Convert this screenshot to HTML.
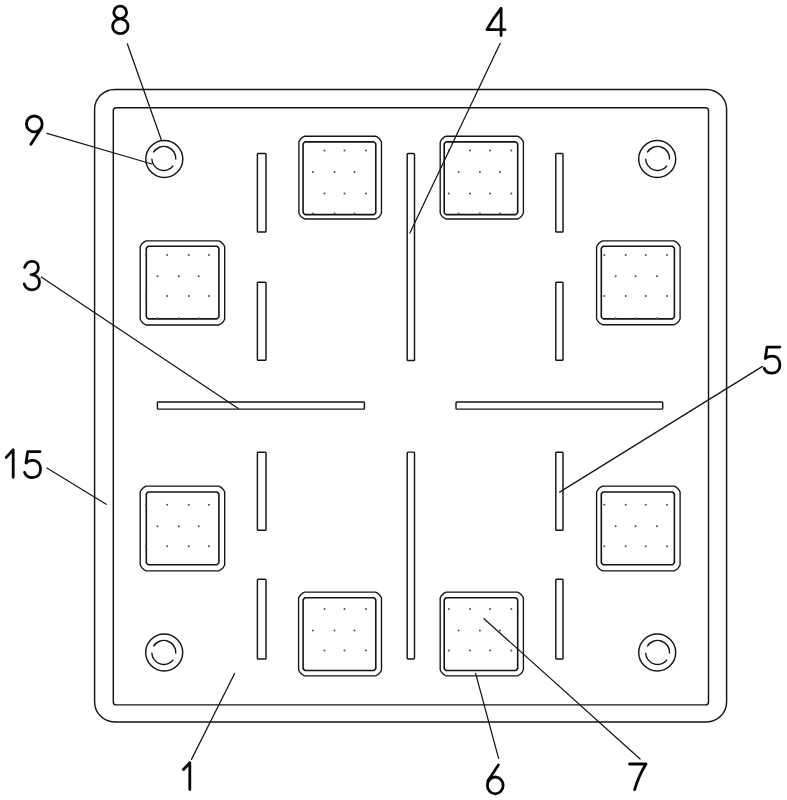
<!DOCTYPE html>
<html><head><meta charset="utf-8"><style>
html,body{margin:0;padding:0;background:#fff;width:787px;height:800px;overflow:hidden;font-family:"Liberation Sans",sans-serif}
svg{display:block}
</style></head><body>
<svg width="787" height="800" viewBox="0 0 787 800">
<rect x="0" y="0" width="787" height="800" fill="#fff"/>
<rect x="94.6" y="89.4" width="632.0" height="632.5" rx="20" ry="20" fill="none" stroke="#141414" stroke-width="1.45"/>
<rect x="113.3" y="107.8" width="595.2" height="597.1" rx="3" ry="3" fill="none" stroke="#141414" stroke-width="1.45"/>
<circle cx="164.3" cy="159" r="18.5" fill="none" stroke="#141414" stroke-width="1.45"/>
<path d="M153.41 152.40A12.0 12.0 0 0 1 175.75 159.45 M173.26 165.79A12.0 12.0 0 0 1 151.81 158.82" fill="none" stroke="#141414" stroke-width="1.45"/>
<circle cx="657.2" cy="159" r="18.5" fill="none" stroke="#141414" stroke-width="1.45"/>
<path d="M647.21 152.40A12.0 12.0 0 0 1 669.55 159.45 M667.06 165.79A12.0 12.0 0 0 1 645.61 158.82" fill="none" stroke="#141414" stroke-width="1.45"/>
<circle cx="164.2" cy="652.5" r="18.5" fill="none" stroke="#141414" stroke-width="1.45"/>
<path d="M153.41 646.40A12.0 12.0 0 0 1 175.75 653.45 M173.26 659.79A12.0 12.0 0 0 1 151.81 652.82" fill="none" stroke="#141414" stroke-width="1.45"/>
<circle cx="657.2" cy="652.5" r="18.5" fill="none" stroke="#141414" stroke-width="1.45"/>
<path d="M647.21 646.40A12.0 12.0 0 0 1 669.55 653.45 M667.06 659.79A12.0 12.0 0 0 1 645.61 652.82" fill="none" stroke="#141414" stroke-width="1.45"/>
<path d="M304.90 136.20L375.50 136.20Q379.85 137.85 381.50 142.20L381.50 213.00Q379.85 217.35 375.50 219.00L304.90 219.00Q300.55 217.35 298.90 213.00L298.90 142.20Q300.55 137.85 304.90 136.20Z" fill="none" stroke="#141414" stroke-width="1.35"/>
<path d="M305.10 141.90L373.80 141.90Q375.10 142.60 375.80 143.90L375.80 212.60Q375.10 213.90 373.80 214.60L305.10 214.60Q303.80 213.90 303.10 212.60L303.10 143.90Q303.80 142.60 305.10 141.90Z" fill="none" stroke="#141414" stroke-width="1.6"/>
<path d="M446.20 136.20L517.40 136.20Q521.75 137.85 523.40 142.20L523.40 213.00Q521.75 217.35 517.40 219.00L446.20 219.00Q441.85 217.35 440.20 213.00L440.20 142.20Q441.85 137.85 446.20 136.20Z" fill="none" stroke="#141414" stroke-width="1.35"/>
<path d="M446.20 141.90L515.70 141.90Q517.00 142.60 517.70 143.90L517.70 212.60Q517.00 213.90 515.70 214.60L446.20 214.60Q444.90 213.90 444.20 212.60L444.20 143.90Q444.90 142.60 446.20 141.90Z" fill="none" stroke="#141414" stroke-width="1.6"/>
<path d="M146.20 240.80L218.70 240.80Q223.05 242.45 224.70 246.80L224.70 319.00Q223.05 323.35 218.70 325.00L146.20 325.00Q141.85 323.35 140.20 319.00L140.20 246.80Q141.85 242.45 146.20 240.80Z" fill="none" stroke="#141414" stroke-width="1.35"/>
<path d="M148.30 246.30L216.90 246.30Q218.20 247.00 218.90 248.30L218.90 316.90Q218.20 318.20 216.90 318.90L148.30 318.90Q147.00 318.20 146.30 316.90L146.30 248.30Q147.00 247.00 148.30 246.30Z" fill="none" stroke="#141414" stroke-width="1.6"/>
<path d="M146.20 486.10L218.70 486.10Q223.05 487.75 224.70 492.10L224.70 564.80Q223.05 569.15 218.70 570.80L146.20 570.80Q141.85 569.15 140.20 564.80L140.20 492.10Q141.85 487.75 146.20 486.10Z" fill="none" stroke="#141414" stroke-width="1.35"/>
<path d="M148.30 492.00L216.90 492.00Q218.20 492.70 218.90 494.00L218.90 562.70Q218.20 564.00 216.90 564.70L148.30 564.70Q147.00 564.00 146.30 562.70L146.30 494.00Q147.00 492.70 148.30 492.00Z" fill="none" stroke="#141414" stroke-width="1.6"/>
<path d="M602.60 240.80L674.10 240.80Q678.45 242.45 680.10 246.80L680.10 318.70Q678.45 323.05 674.10 324.70L602.60 324.70Q598.25 323.05 596.60 318.70L596.60 246.80Q598.25 242.45 602.60 240.80Z" fill="none" stroke="#141414" stroke-width="1.35"/>
<path d="M603.30 246.30L672.40 246.30Q673.70 247.00 674.40 248.30L674.40 316.90Q673.70 318.20 672.40 318.90L603.30 318.90Q602.00 318.20 601.30 316.90L601.30 248.30Q602.00 247.00 603.30 246.30Z" fill="none" stroke="#141414" stroke-width="1.6"/>
<path d="M602.60 486.10L674.10 486.10Q678.45 487.75 680.10 492.10L680.10 564.80Q678.45 569.15 674.10 570.80L602.60 570.80Q598.25 569.15 596.60 564.80L596.60 492.10Q598.25 487.75 602.60 486.10Z" fill="none" stroke="#141414" stroke-width="1.35"/>
<path d="M603.30 492.00L672.40 492.00Q673.70 492.70 674.40 494.00L674.40 562.70Q673.70 564.00 672.40 564.70L603.30 564.70Q602.00 564.00 601.30 562.70L601.30 494.00Q602.00 492.70 603.30 492.00Z" fill="none" stroke="#141414" stroke-width="1.6"/>
<path d="M304.60 592.10L375.50 592.10Q379.85 593.75 381.50 598.10L381.50 669.80Q379.85 674.15 375.50 675.80L304.60 675.80Q300.25 674.15 298.60 669.80L298.60 598.10Q300.25 593.75 304.60 592.10Z" fill="none" stroke="#141414" stroke-width="1.35"/>
<path d="M305.10 597.80L373.80 597.80Q375.10 598.50 375.80 599.80L375.80 668.50Q375.10 669.80 373.80 670.50L305.10 670.50Q303.80 669.80 303.10 668.50L303.10 599.80Q303.80 598.50 305.10 597.80Z" fill="none" stroke="#141414" stroke-width="1.6"/>
<path d="M446.20 592.10L517.40 592.10Q521.75 593.75 523.40 598.10L523.40 669.80Q521.75 674.15 517.40 675.80L446.20 675.80Q441.85 674.15 440.20 669.80L440.20 598.10Q441.85 593.75 446.20 592.10Z" fill="none" stroke="#141414" stroke-width="1.35"/>
<path d="M446.20 597.80L515.70 597.80Q517.00 598.50 517.70 599.80L517.70 668.50Q517.00 669.80 515.70 670.50L446.20 670.50Q444.90 669.80 444.20 668.50L444.20 599.80Q444.90 598.50 446.20 597.80Z" fill="none" stroke="#141414" stroke-width="1.6"/>
<g fill="#505050"><circle cx="324.5" cy="150.5" r="1.0"/><circle cx="344.5" cy="150.5" r="1.0"/><circle cx="365.9" cy="150.5" r="1.0"/><circle cx="313.0" cy="172.0" r="1.0"/><circle cx="334.5" cy="172.0" r="1.0"/><circle cx="354.5" cy="172.0" r="1.0"/><circle cx="324.5" cy="193.5" r="1.0"/><circle cx="344.5" cy="193.5" r="1.0"/><circle cx="365.9" cy="193.5" r="1.0"/><circle cx="313.0" cy="213.5" r="1.0"/><circle cx="334.5" cy="213.5" r="1.0"/><circle cx="354.5" cy="213.5" r="1.0"/><circle cx="448.8" cy="150.5" r="1.0"/><circle cx="470.0" cy="150.5" r="1.0"/><circle cx="490.1" cy="150.5" r="1.0"/><circle cx="511.3" cy="150.5" r="1.0"/><circle cx="458.6" cy="172.0" r="1.0"/><circle cx="479.9" cy="172.0" r="1.0"/><circle cx="499.9" cy="172.0" r="1.0"/><circle cx="448.8" cy="193.5" r="1.0"/><circle cx="470.0" cy="193.5" r="1.0"/><circle cx="490.1" cy="193.5" r="1.0"/><circle cx="511.3" cy="193.5" r="1.0"/><circle cx="458.6" cy="213.5" r="1.0"/><circle cx="479.9" cy="213.5" r="1.0"/><circle cx="499.9" cy="213.5" r="1.0"/><circle cx="145.9" cy="254.9" r="1.0"/><circle cx="167.2" cy="254.9" r="1.0"/><circle cx="188.8" cy="254.9" r="1.0"/><circle cx="208.9" cy="254.9" r="1.0"/><circle cx="157.5" cy="276.3" r="1.0"/><circle cx="178.8" cy="276.3" r="1.0"/><circle cx="198.7" cy="276.3" r="1.0"/><circle cx="145.9" cy="296.0" r="1.0"/><circle cx="167.2" cy="296.0" r="1.0"/><circle cx="188.8" cy="296.0" r="1.0"/><circle cx="208.9" cy="296.0" r="1.0"/><circle cx="157.5" cy="318.3" r="1.0"/><circle cx="178.8" cy="318.3" r="1.0"/><circle cx="198.7" cy="318.3" r="1.0"/><circle cx="145.9" cy="504.7" r="1.0"/><circle cx="167.2" cy="504.7" r="1.0"/><circle cx="188.8" cy="504.7" r="1.0"/><circle cx="208.9" cy="504.7" r="1.0"/><circle cx="157.5" cy="526.3" r="1.0"/><circle cx="178.8" cy="526.3" r="1.0"/><circle cx="198.7" cy="526.3" r="1.0"/><circle cx="145.9" cy="546.2" r="1.0"/><circle cx="167.2" cy="546.2" r="1.0"/><circle cx="188.8" cy="546.2" r="1.0"/><circle cx="208.9" cy="546.2" r="1.0"/><circle cx="604.3" cy="254.9" r="1.0"/><circle cx="625.7" cy="254.9" r="1.0"/><circle cx="645.8" cy="254.9" r="1.0"/><circle cx="667.0" cy="254.9" r="1.0"/><circle cx="615.7" cy="276.3" r="1.0"/><circle cx="635.6" cy="276.3" r="1.0"/><circle cx="657.0" cy="276.3" r="1.0"/><circle cx="604.3" cy="296.0" r="1.0"/><circle cx="625.7" cy="296.0" r="1.0"/><circle cx="645.8" cy="296.0" r="1.0"/><circle cx="667.0" cy="296.0" r="1.0"/><circle cx="615.7" cy="318.3" r="1.0"/><circle cx="635.6" cy="318.3" r="1.0"/><circle cx="657.0" cy="318.3" r="1.0"/><circle cx="604.3" cy="504.7" r="1.0"/><circle cx="625.7" cy="504.7" r="1.0"/><circle cx="645.8" cy="504.7" r="1.0"/><circle cx="667.0" cy="504.7" r="1.0"/><circle cx="615.7" cy="526.3" r="1.0"/><circle cx="635.6" cy="526.3" r="1.0"/><circle cx="657.0" cy="526.3" r="1.0"/><circle cx="604.3" cy="546.2" r="1.0"/><circle cx="625.7" cy="546.2" r="1.0"/><circle cx="645.8" cy="546.2" r="1.0"/><circle cx="667.0" cy="546.2" r="1.0"/><circle cx="324.5" cy="609.0" r="1.0"/><circle cx="344.5" cy="609.0" r="1.0"/><circle cx="365.9" cy="609.0" r="1.0"/><circle cx="313.0" cy="630.5" r="1.0"/><circle cx="334.5" cy="630.5" r="1.0"/><circle cx="354.5" cy="630.5" r="1.0"/><circle cx="324.5" cy="650.5" r="1.0"/><circle cx="344.5" cy="650.5" r="1.0"/><circle cx="365.9" cy="650.5" r="1.0"/><circle cx="448.8" cy="609.0" r="1.0"/><circle cx="470.0" cy="609.0" r="1.0"/><circle cx="490.1" cy="609.0" r="1.0"/><circle cx="511.3" cy="609.0" r="1.0"/><circle cx="458.6" cy="630.5" r="1.0"/><circle cx="479.9" cy="630.5" r="1.0"/><circle cx="499.9" cy="630.5" r="1.0"/><circle cx="448.8" cy="650.5" r="1.0"/><circle cx="470.0" cy="650.5" r="1.0"/><circle cx="490.1" cy="650.5" r="1.0"/><circle cx="511.3" cy="650.5" r="1.0"/></g>
<rect x="257.4" y="153.5" width="8.6" height="78.5" rx="0.8" ry="0.8" fill="none" stroke="#141414" stroke-width="1.45"/>
<rect x="555.8" y="153.5" width="7.2" height="78.5" rx="0.8" ry="0.8" fill="none" stroke="#141414" stroke-width="1.45"/>
<rect x="257.4" y="282.3" width="8.6" height="78.0" rx="0.8" ry="0.8" fill="none" stroke="#141414" stroke-width="1.45"/>
<rect x="555.8" y="282.3" width="7.2" height="78.0" rx="0.8" ry="0.8" fill="none" stroke="#141414" stroke-width="1.45"/>
<rect x="257.4" y="452.2" width="8.6" height="78.1" rx="0.8" ry="0.8" fill="none" stroke="#141414" stroke-width="1.45"/>
<rect x="555.8" y="452.2" width="7.2" height="78.1" rx="0.8" ry="0.8" fill="none" stroke="#141414" stroke-width="1.45"/>
<rect x="257.4" y="579.2" width="8.6" height="79.8" rx="0.8" ry="0.8" fill="none" stroke="#141414" stroke-width="1.45"/>
<rect x="555.8" y="579.2" width="7.2" height="79.8" rx="0.8" ry="0.8" fill="none" stroke="#141414" stroke-width="1.45"/>
<rect x="407.2" y="153.4" width="7.3" height="207.1" rx="0.8" ry="0.8" fill="none" stroke="#141414" stroke-width="1.45"/>
<rect x="407.2" y="452.1" width="7.3" height="206.8" rx="0.8" ry="0.8" fill="none" stroke="#141414" stroke-width="1.45"/>
<rect x="157.4" y="401.9" width="207.0" height="7.2" rx="0.8" ry="0.8" fill="none" stroke="#141414" stroke-width="1.45"/>
<rect x="456.0" y="401.9" width="206.7" height="7.2" rx="0.8" ry="0.8" fill="none" stroke="#141414" stroke-width="1.45"/>
<line x1="127.3" y1="43.8" x2="161.3" y2="139.8" stroke="#141414" stroke-width="1.25" stroke-linecap="round"/>
<line x1="47.0" y1="133.3" x2="151.8" y2="164.0" stroke="#141414" stroke-width="1.25" stroke-linecap="round"/>
<line x1="500.1" y1="43.4" x2="409.9" y2="233.0" stroke="#141414" stroke-width="1.25" stroke-linecap="round"/>
<line x1="41.2" y1="277.0" x2="238.3" y2="408.6" stroke="#141414" stroke-width="1.25" stroke-linecap="round"/>
<line x1="762.5" y1="366.4" x2="559.6" y2="492.1" stroke="#141414" stroke-width="1.25" stroke-linecap="round"/>
<line x1="46.9" y1="468.0" x2="106.2" y2="504.3" stroke="#141414" stroke-width="1.25" stroke-linecap="round"/>
<line x1="191.5" y1="759.4" x2="234.6" y2="673.5" stroke="#141414" stroke-width="1.25" stroke-linecap="round"/>
<line x1="498.6" y1="758.3" x2="475.6" y2="673.4" stroke="#141414" stroke-width="1.25" stroke-linecap="round"/>
<line x1="640.1" y1="759.0" x2="484.0" y2="618.7" stroke="#141414" stroke-width="1.25" stroke-linecap="round"/>
<path d="M126.60 12.40A6.4 6.2 0 1 1 113.80 12.40A6.4 6.2 0 1 1 126.60 12.40Z M128.00 26.20A7.7 7.4 0 1 1 112.60 26.20A7.7 7.4 0 1 1 128.00 26.20Z" fill="none" stroke="#050505" stroke-width="2.8" stroke-linecap="round" stroke-linejoin="round"/>
<path d="M42.20 123.90A7.9 7.9 0 1 1 26.40 123.90A7.9 7.9 0 1 1 42.20 123.90Z M41.9 127.3 L30.9 144.3" fill="none" stroke="#050505" stroke-width="2.8" stroke-linecap="round" stroke-linejoin="round"/>
<path d="M501.1 8.4 Q492.6 19.0 486.9 29.7 L505.0 29.7 M501.1 8.4 L501.1 35.6" fill="none" stroke="#050505" stroke-width="2.8" stroke-linecap="round" stroke-linejoin="round"/>
<path d="M24.6 267.4 C25.9 263.6 28.6 261.3 32.0 261.3 C35.9 261.3 38.4 264.0 38.4 267.6 C38.4 271.6 35.3 274.6 31.0 274.6 C36.0 274.6 39.5 277.8 39.5 282.2 C39.5 286.8 36.2 289.8 31.9 289.8 C28.3 289.8 25.3 287.6 24.2 283.9" fill="none" stroke="#050505" stroke-width="2.8" stroke-linecap="round" stroke-linejoin="round"/>
<path d="M779.9 347.1 L767.0 347.1 L765.3 358.5 C766.9 357.0 769.3 356.1 772.3 356.1 C777.4 356.1 779.9 360.2 779.9 365.0 C779.9 370.2 776.4 373.2 771.9 373.2 C768.0 373.2 765.3 371.3 764.2 368.2" fill="none" stroke="#050505" stroke-width="2.8" stroke-linecap="round" stroke-linejoin="round"/>
<path d="M6.2 457.4 L13.2 449.8 L13.2 477.3" fill="none" stroke="#050505" stroke-width="2.8" stroke-linecap="round" stroke-linejoin="round"/>
<path d="M40.0 451.6 L27.7 451.6 L26.0 463.0 C27.5 461.3 29.8 460.3 32.7 460.3 C37.6 460.3 40.6 464.2 40.6 469.0 C40.6 474.3 37.2 477.6 32.6 477.6 C28.7 477.6 25.8 475.6 24.6 472.4" fill="none" stroke="#050505" stroke-width="2.8" stroke-linecap="round" stroke-linejoin="round"/>
<path d="M183.5 769.5 L189.8 762.7 L189.8 789.6" fill="none" stroke="#050505" stroke-width="2.8" stroke-linecap="round" stroke-linejoin="round"/>
<path d="M498.4 764.9 L487.8 781.0 M503.1 785.4 A7.85 8.4 0 1 1 487.4 785.4 A7.85 8.4 0 1 1 503.1 785.4 Z" fill="none" stroke="#050505" stroke-width="2.8" stroke-linecap="round" stroke-linejoin="round"/>
<path d="M629.6 764.0 L646.0 764.0 C641.8 770.6 637.6 779.6 634.6 789.6" fill="none" stroke="#050505" stroke-width="2.8" stroke-linecap="round" stroke-linejoin="round"/>
</svg>
</body></html>
